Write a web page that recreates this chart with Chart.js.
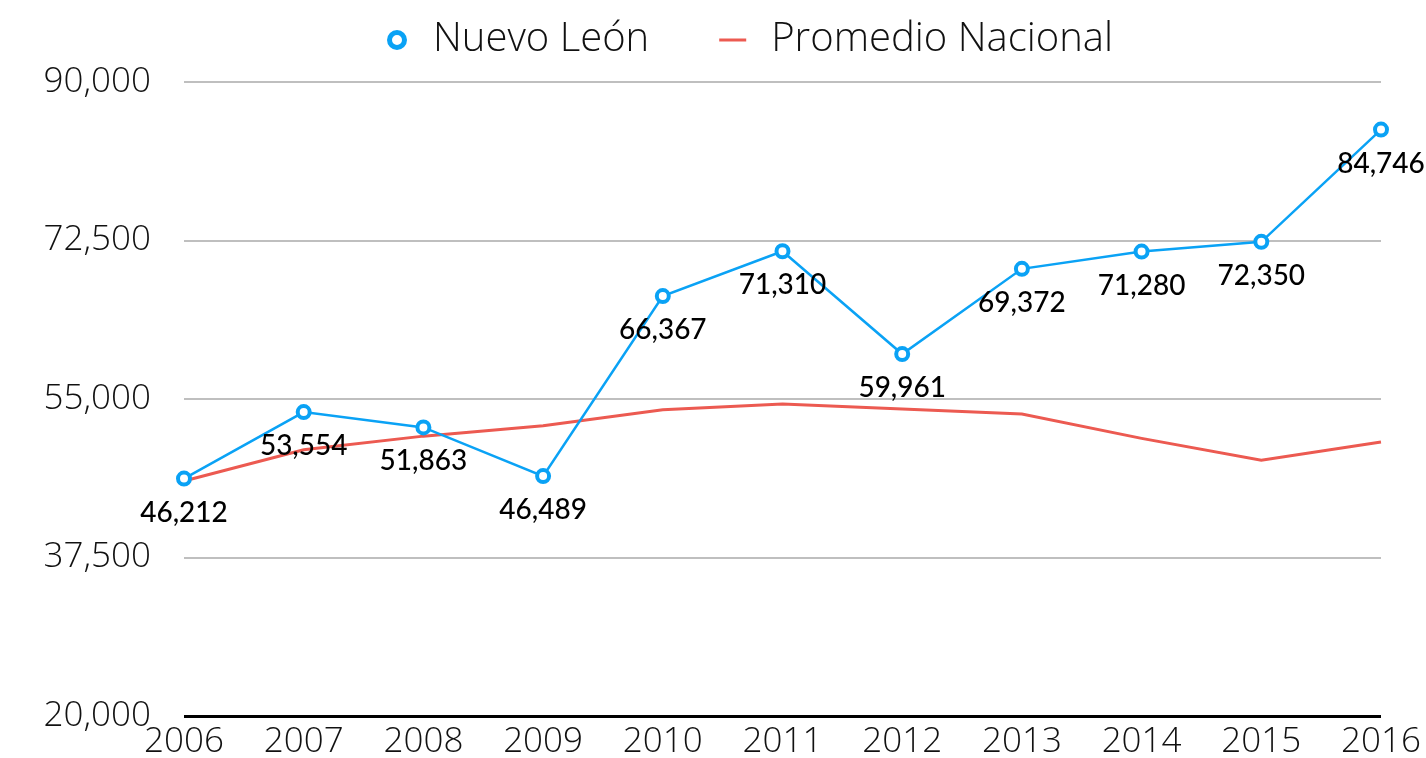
<!DOCTYPE html>
<html>
<head>
<meta charset="utf-8">
<script src="https://cdn.jsdelivr.net/npm/chart.js@4/dist/chart.umd.min.js"></script>
<style>
    html, body { margin: 0; padding: 0; background: #fff; }
    #wrap { width: 1426px; height: 758px; position: relative; }
</style>
</head>
<body>
<div id="wrap"><canvas id="ingresoChart"></canvas></div>
<script>
// --- data ---
const years = ['2006', '2007', '2008', '2009', '2010', '2011', '2012', '2013', '2014', '2015', '2016'];
const nuevoLeon = [46212, 53554, 51863, 46489, 66367, 71310, 59961, 69372, 71280, 72350, 84746];
const promedioNacional = [45950, 49400, 50900, 52050, 53800, 54450, 53900, 53350, 50650, 48250, 50250];
const yTicks = [20000, 37500, 55000, 72500, 90000];
const seriesNames = ['Nuevo León', 'Promedio Nacional'];

const blue = '#0aa2f5';
const red = '#ec5a51';
const fmt = v => v.toLocaleString('en-US');

// values under each Nuevo León point
const valueLabels = {
    id: 'valueLabels',
    afterDatasetsDraw(chart) {
        const ctx = chart.ctx;
        const meta = chart.getDatasetMeta(0);
        ctx.save();
        ctx.fillStyle = '#000';
        ctx.font = "500 28px 'Lato', sans-serif";
        ctx.textAlign = 'center';
        ctx.textBaseline = 'middle';
        meta.data.forEach((pt, i) => {
            ctx.fillText(fmt(nuevoLeon[i]), pt.x, pt.y + 34);
        });
        ctx.restore();
    }
};

// legend along the top: ring marker + line marker, wide gap between them
const topLegend = {
    id: 'topLegend',
    afterDraw(chart) {
        const ctx = chart.ctx;
        const y = 40;
        let x = 387;
        ctx.save();
        ctx.font = "300 40px 'Open Sans', sans-serif";
        ctx.textBaseline = 'middle';

        // ring
        ctx.beginPath();
        ctx.arc(x + 10, y, 7.5, 0, Math.PI * 2);
        ctx.fillStyle = '#fff';
        ctx.fill();
        ctx.lineWidth = 5;
        ctx.strokeStyle = blue;
        ctx.stroke();
        x += 46;
        ctx.fillStyle = '#111';
        ctx.fillText(seriesNames[0], x, y);
        x += ctx.measureText(seriesNames[0]).width + 70;

        // line
        ctx.beginPath();
        ctx.moveTo(x, y);
        ctx.lineTo(x + 27, y);
        ctx.lineWidth = 3;
        ctx.strokeStyle = red;
        ctx.stroke();
        x += 52;
        ctx.fillText(seriesNames[1], x, y);
        ctx.restore();
    }
};

const canvas = document.getElementById('ingresoChart');
new Chart(canvas, {
    type: 'line',
    data: {
        labels: years,
        datasets: [{
            label: seriesNames[0],
            data: nuevoLeon,
            borderColor: blue,
            borderWidth: 2.5,
            pointRadius: 6,
            pointBorderWidth: 4,
            pointBackgroundColor: '#fff',
            pointBorderColor: blue,
            tension: 0
        }, {
            label: seriesNames[1],
            data: promedioNacional,
            borderColor: red,
            borderWidth: 3,
            pointRadius: 0,
            tension: 0
        }]
    },
    options: {
        responsive: true,
        maintainAspectRatio: false,
        animation: false,
        layout: { padding: { left: 0, right: 45, top: 82, bottom: 0 } },
        plugins: {
            legend: { display: false },
            tooltip: { enabled: false }
        },
        scales: {
            x: {
                offset: false,
                afterFit: axis => { axis.height = 42; },
                grid: { display: false, drawTicks: false },
                border: { display: false },
                ticks: {
                    color: '#111',
                    padding: 5,
                    maxRotation: 0,
                    font: { family: "'Open Sans', sans-serif", size: 35, weight: '300' }
                }
            },
            y: {
                min: 20000,
                max: 90000,
                afterBuildTicks: axis => { axis.ticks = yTicks.map(v => ({ value: v })); },
                afterFit: axis => {
                    // tick padding would otherwise push the plot area up from the bottom
                    axis.width = 184;
                    axis.paddingTop = 0;
                    axis.paddingBottom = 0;
                },
                grid: {
                    drawTicks: false,
                    color: c => c.index === 0 ? '#000' : '#bfbfbf',
                    lineWidth: c => c.index === 0 ? 3 : 2
                },
                border: { display: false },
                ticks: {
                    color: '#111',
                    padding: 33,
                    callback: v => fmt(v),
                    font: { family: "'Open Sans', sans-serif", size: 35, weight: '300' }
                }
            }
        }
    },
    plugins: [valueLabels, topLegend]
});
</script>
</body>
</html>
